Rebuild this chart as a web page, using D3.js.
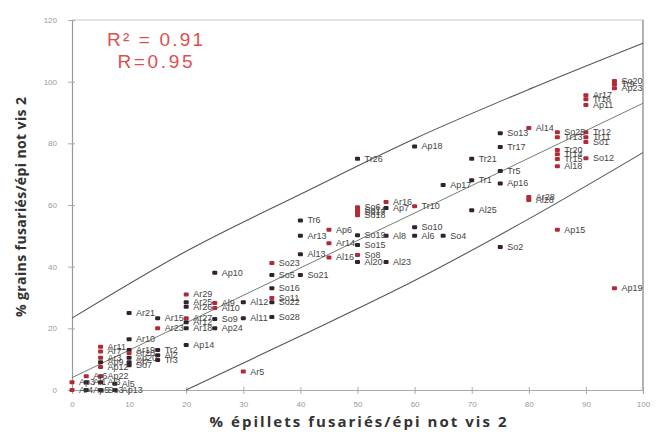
<!DOCTYPE html>
<html>
<head>
    <meta charset="utf-8" />
    <script src="https://d3js.org/d3.v7.min.js"></script>
    <style>
        body { margin: 0; background: #fff; }
    </style>
</head>
<body>
</body>

<script>
    // ticks
    var xTicks = [0, 10, 20, 30, 40, 50, 60, 70, 80, 90, 100];
    var yTicks = [0, 20, 40, 60, 80, 100, 120];

    // points : label, % epillets (x), % grains (y), red marker or not
    var pointLabels = ["Ar4", "Ap3", "Ar6", "Al1", "Ap5",
        "Ar11", "Ar7", "Ar3", "Ap9", "Ap12", "Ap22", "Al3", "So3", "Ap13", "Al5",
        "Ar21", "Ar10", "Ar19", "Ar20", "Ap20", "Al7", "So7",
        "Al2", "Tr2", "Tr3", "Ar15", "Ar23",
        "Ar29", "Ar25", "Ar26", "Ar27", "Ar12", "Ar18", "Ap14",
        "Ap10", "Al9", "Al10", "So9", "Ap24",
        "Ar5", "Al11", "Al12",
        "So23", "So5", "So16", "So11", "So22", "So28",
        "Tr6", "Ar13", "So21", "Al13",
        "Ap6", "Ar14", "Al16",
        "Tr26", "So6", "So14", "So17", "So18", "So19", "So15", "So8", "Al20",
        "Ar16", "Ap7", "Al8", "Al23",
        "Ap18", "Tr10", "So10", "Al6",
        "Ap17", "So4",
        "Tr21", "Al25", "Tr1",
        "So13", "Tr17", "Tr5", "Ap16", "So2",
        "Al14", "Ar28", "Al28",
        "So25", "Tr13", "Tr20", "Tr14", "Tr15", "Al18", "Ap15",
        "Tr12", "Tr11", "So1", "So12", "Ar17", "Tr16", "Ap11",
        "So20", "Tr9", "Ap23", "Ap19"];
    var pointX = [0, 0, 2.5, 2.5, 2.5,
        5, 5, 5, 5, 5, 5, 5, 5, 7.5, 7.5,
        10, 10, 10, 10, 10, 10, 10,
        15, 15, 15, 15, 15,
        20, 20, 20, 20, 20, 20, 20,
        25, 25, 25, 25, 25,
        30, 30, 30,
        35, 35, 35, 35, 35, 35,
        40, 40, 40, 40,
        45, 45, 45,
        50, 50, 50, 50, 50, 50, 50, 50, 50,
        55, 55, 55, 55,
        60, 60, 60, 60,
        65, 65,
        70, 70, 70,
        75, 75, 75, 75, 75,
        80, 80, 80,
        85, 85, 85, 85, 85, 85, 85,
        90, 90, 90, 90, 90, 90, 90,
        95, 95, 95, 95];
    var pointY = [0, 2.5, 4.5, 2.5, 0,
        14, 12.5, 10.5, 9, 7.5, 4.5, 2.5, 0, 0, 2,
        25, 16.5, 13, 12, 10.5, 9, 8,
        11.3, 13, 9.7, 23.3, 20,
        31, 28.5, 27, 23.3, 22, 20, 14.6,
        38, 28.2, 26.6, 23, 20,
        6, 23.3, 28.5,
        41.2, 37.3, 33, 29.8, 28.5, 23.7,
        55, 50, 37.3, 44,
        52, 47.6, 43,
        75, 59.3, 58.3, 57.7, 56.7, 50.2, 47, 43.8, 41.5,
        61, 59, 50, 41.5,
        79, 59.6, 52.8, 50,
        66.5, 50,
        75, 58.3, 68,
        83.3, 78.8, 71, 67, 46.4,
        85, 62.6, 61.6,
        83.6, 82, 77.8, 76.5, 74.9, 72.6, 52,
        83.6, 82, 80.4, 75.2, 95.6, 94.3, 92.4,
        100.2, 99.2, 97.9, 33];
    var pointRed = [1, 1, 1, 0, 0,
        1, 1, 1, 0, 1, 1, 0, 0, 0, 0,
        0, 0, 0, 1, 0, 0, 0,
        0, 0, 0, 0, 1,
        1, 0, 0, 1, 0, 0, 0,
        0, 1, 1, 0, 0,
        1, 0, 0,
        1, 0, 0, 1, 0, 0,
        0, 0, 0, 0,
        1, 1, 1,
        0, 1, 1, 1, 1, 0, 0, 1, 0,
        1, 0, 0, 0,
        0, 1, 0, 0,
        0, 0,
        0, 0, 0,
        0, 0, 0, 0, 0,
        1, 1, 1,
        1, 1, 1, 1, 1, 1, 1,
        1, 1, 1, 1, 1, 1, 1,
        1, 1, 1, 1];

    // fitted line and the two bands
    var fitX = [0, 100];
    var fitY = [4, 93];
    var upperX = [0, 20, 40, 60, 80, 100];
    var upperY = [23.3, 45, 63.5, 81.5, 97.5, 112.5];
    var lowerX = [20, 40, 60, 80, 100];
    var lowerY = [0, 17.5, 35.5, 55.5, 77];

    var statLines = ["R\u00b2 = 0.91", "R=0.95"];

    var width = 667, height = 432;
    var svg = d3.select("body").append("svg")
                .attr("width", width)
                .attr("height", height)
                .style("font-family", "'Liberation Sans', Arial, sans-serif");

    var x = d3.scaleLinear().domain([0, 100]).range([72, 643]);
    var y = d3.scaleLinear().domain([0, 120]).range([390, 20]);

    // frame top + right
    svg.append("line").attr("x1", 72).attr("x2", 643).attr("y1", 20).attr("y2", 20)
       .attr("stroke", "#c8c8c8").attr("stroke-width", 1.2);
    svg.append("line").attr("x1", 643).attr("x2", 643).attr("y1", 20).attr("y2", 390)
       .attr("stroke", "#8a8a8a").attr("stroke-width", 1.3);

    // axes
    var yAxis = svg.append("g")
                   .attr("transform", "translate(72,0)")
                   .call(d3.axisLeft(y).tickValues(yTicks).tickSize(4).tickPadding(11));
    yAxis.select(".domain").attr("stroke", "#999").attr("stroke-width", 1.2);
    yAxis.selectAll(".tick line").attr("x1", 3).attr("x2", -4).attr("stroke", "#aaa");
    yAxis.selectAll(".tick text").attr("fill", "#999").style("font-size", "8px");

    var xAxis = svg.append("g")
                   .attr("transform", "translate(0,390)")
                   .call(d3.axisBottom(x).tickValues(xTicks).tickSize(4).tickPadding(7));
    xAxis.select(".domain").attr("stroke", "#aaa").attr("stroke-width", 1.2);
    xAxis.selectAll(".tick line").attr("y1", -3).attr("y2", 4).attr("stroke", "#aaa");
    xAxis.selectAll(".tick text").attr("fill", "#999").style("font-size", "8px");

    // lines
    var line = d3.line()
                 .x(function (d) { return x(d[0]); })
                 .y(function (d) { return y(d[1]); })
                 .curve(d3.curveMonotoneX);

    svg.append("path").datum(d3.zip(upperX, upperY))
       .attr("d", line).attr("fill", "none").attr("stroke", "#555").attr("stroke-width", 1.1);
    svg.append("path").datum(d3.zip(lowerX, lowerY))
       .attr("d", line).attr("fill", "none").attr("stroke", "#555").attr("stroke-width", 1.1);
    svg.append("path").datum(d3.zip(fitX, fitY))
       .attr("d", line).attr("fill", "none").attr("stroke", "#6f806f").attr("stroke-width", 1);

    // points
    var pts = d3.range(pointLabels.length).map(function (i) {
        return { label: pointLabels[i], x: pointX[i], y: pointY[i], red: pointRed[i] };
    });

    svg.append("g").selectAll("rect")
       .data(pts)
       .enter()
       .append("rect")
       .attr("x", function (d) { return x(d.x) - 2.5; })
       .attr("y", function (d) { return y(d.y) - 2; })
       .attr("width", 5)
       .attr("height", 4)
       .attr("rx", 1)
       .style("fill", function (d) { return d.red ? "#b02a37" : "#33222a"; });

    svg.append("g").selectAll("text")
       .data(pts)
       .enter()
       .append("text")
       .attr("x", function (d) { return x(d.x) + 7; })
       .attr("y", function (d) { return y(d.y) + 3; })
       .style("font-size", "9px")
       .style("fill", "#444")
       .text(function (d) { return d.label; });

    // R text
    svg.append("g").selectAll("text")
       .data(statLines)
       .enter()
       .append("text")
       .attr("x", 155)
       .attr("y", function (d, i) { return 46 + i * 22; })
       .attr("text-anchor", "middle")
       .attr("textLength", function (d, i) { return i == 0 ? 96 : 75; })
       .style("font-size", "19px")
       .style("fill", "#dc5050")
       .text(function (d) { return d; });

    // axis titles
    svg.append("text")
       .attr("x", 358).attr("y", 427)
       .attr("text-anchor", "middle")
       .attr("textLength", 297)
       .style("font-family", "'Open Sans', sans-serif")
       .style("font-weight", "bold")
       .style("font-size", "15px")
       .style("fill", "#333")
       .text("% épillets fusariés/épi not vis 2");

    svg.append("text")
       .attr("transform", "translate(26,207) rotate(-90)")
       .attr("text-anchor", "middle")
       .attr("textLength", 220)
       .style("font-family", "'Open Sans', sans-serif")
       .style("font-weight", "bold")
       .style("font-size", "14px")
       .style("fill", "#333")
       .text("% grains fusariés/épi not vis 2");
</script>

</html>
